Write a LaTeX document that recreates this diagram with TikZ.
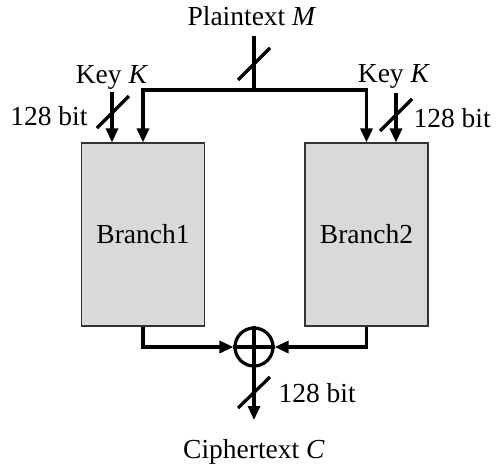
\documentclass[tikz,border=0pt]{standalone}
\usepackage{fontspec}
\setmainfont{Liberation Serif}
\usetikzlibrary{arrows.meta}

\begin{document}
\begin{tikzpicture}[x=1pt,y=-1pt,every node/.style={font=\fontsize{27.5}{31}\selectfont}]
  \tikzset{
    wire/.style={line width=3.2pt},
    feed/.style={wire,-{Triangle[length=14pt,width=12pt]}},
    branchbox/.style={draw=black!80,fill=gray!30,line width=1.2pt,
      minimum width=123pt,minimum height=183pt,inner sep=0pt}
  }
  \useasboundingbox (0,0) rectangle (500,466);

  % Two branches
  \node[branchbox] (b1) at (143,234.5) {\raisebox{-5pt}{Branch1}};
  \node[branchbox] (b2) at (366.5,234.5) {\raisebox{-5pt}{Branch2}};

  % XOR combiner
  \node[draw,circle,line width=3.2pt,minimum size=38pt,inner sep=0pt] (xor) at (254,347) {};
  \draw[wire] (xor.north) -- (xor.south);
  \draw[wire] (xor.west) -- (xor.east);

  % Plaintext input, split to both branches
  \node[anchor=base] (pt) at (252,25) {Plaintext \textit{M}};
  \coordinate (mtop) at (254,36);
  \coordinate (split) at (254,90);
  \draw[wire] (mtop) -- (split);
  \draw[wire] (238,80) -- (270,48);
  \draw[feed] (split) -| (b1.north);
  \draw[feed] (split) -| (b2.north);

  % Keys
  \node[anchor=base] (keyl) at (112,83) {Key \textit{K}};
  \node[anchor=base east] (bitl) at (91,125) {128 bit};
  \coordinate (kl) at (112,92);
  \draw[feed] (kl) -- (kl |- b1.north);
  \draw[wire] (97,128) -- (129,96);

  \node[anchor=base] (keyr) at (394,82) {Key \textit{K}};
  \node[anchor=base west] (bitr) at (410,127) {128 bit};
  \coordinate (kr) at (396,93);
  \draw[feed] (kr) -- (kr |- b2.north);
  \draw[wire] (380,131) -- (412,99);

  % Branch outputs into the XOR
  \draw[feed] (b1.south) |- (xor.west);
  \draw[feed] (b2.south) |- (xor.east);

  % Ciphertext output
  \coordinate (cout) at (254,420);
  \draw[feed] (xor.south) -- (cout);
  \draw[wire] (238,408) -- (270,377);
  \node[anchor=base west] (bito) at (275,402) {128 bit};
  \node[anchor=base] (ct) at (254,458) {Ciphertext \textit{C}};
\end{tikzpicture}
\end{document}
